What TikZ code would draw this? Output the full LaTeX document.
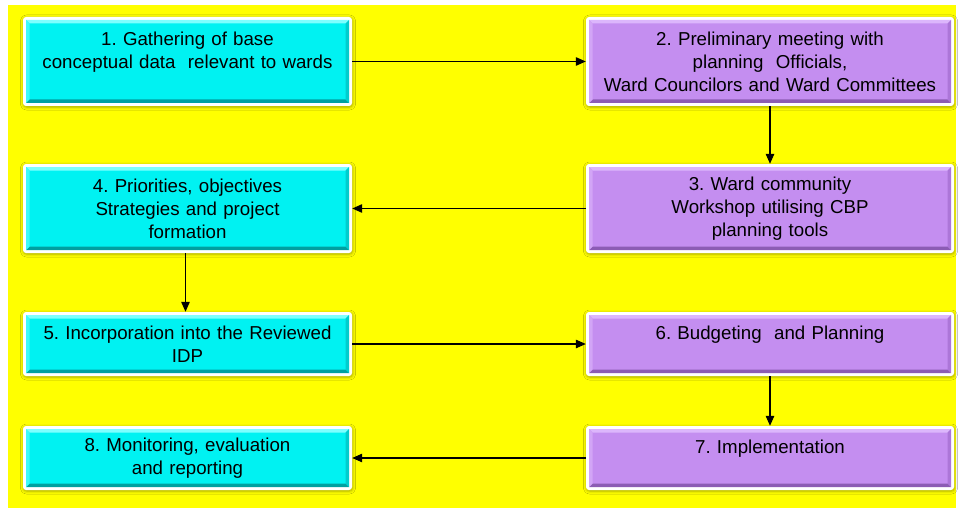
\documentclass[tikz,border=0pt]{standalone}
\usepackage{fontspec}
\setmainfont{Liberation Sans}
\usetikzlibrary{arrows.meta,shadows.blur}
\frenchspacing
\definecolor{bgyellow}{RGB}{255,255,0}
\definecolor{cyface}{RGB}{0,242,242}
\definecolor{cytop}{RGB}{125,255,255}
\definecolor{cyleft}{RGB}{60,250,250}
\definecolor{cyright}{RGB}{0,205,205}
\definecolor{cybot}{RGB}{0,160,160}
\definecolor{puface}{RGB}{196,142,240}
\definecolor{putop}{RGB}{220,182,252}
\definecolor{puleft}{RGB}{210,165,246}
\definecolor{puright}{RGB}{172,118,216}
\definecolor{pubot}{RGB}{140,92,180}
\tikzset{
  bevelled/.style={path picture={
    \path ([shift={(3pt,3pt)}]path picture bounding box.south west) coordinate (oa)
          ([shift={(-3pt,-3pt)}]path picture bounding box.north east) coordinate (ob)
          ([shift={(6.5pt,6.5pt)}]path picture bounding box.south west) coordinate (ia)
          ([shift={(-6.5pt,-6.5pt)}]path picture bounding box.north east) coordinate (ib);
    \fill[#1face, sharp corners] (oa) rectangle (ob);
    \fill[#1top, sharp corners] (oa|-ob) -- (ob) -- (ib) -- (ia|-ib) -- cycle;
    \fill[#1bot, sharp corners] (oa) -- (ob|-oa) -- (ib|-ia) -- (ia) -- cycle;
    \fill[#1left, sharp corners] (oa) -- (ia) -- (ia|-ib) -- (oa|-ob) -- cycle;
    \fill[#1right, sharp corners] (ob|-oa) -- (ib|-ia) -- (ib) -- (ob) -- cycle;
  }},
  box/.style={fill=white, rounded corners=3pt, inner sep=0pt, align=center,
    font=\fontsize{18.7}{23}\selectfont, text=black,
    blur shadow={shadow xshift=0.5pt, shadow yshift=-1pt, shadow blur radius=3pt, shadow opacity=35}},
  lbox/.style={box, bevelled=cy, minimum width=329pt, text width=319pt},
  rbox/.style={box, bevelled=pu, minimum width=368pt, text width=358pt},
  tall/.style={minimum height=89pt},
  short/.style={minimum height=64pt},
  arr/.style={-{Triangle[length=10pt,width=8.5pt]}, line width=1.2pt, black},
}
\begin{document}
\begin{tikzpicture}[x=1pt,y=-1pt]
\useasboundingbox (0,0) rectangle (958,508);
\fill[white] (0,0) rectangle (958,508);
\fill[bgyellow] (8,5) rectangle (956,508);

\node[lbox, tall]  (b1) at (187.5,61.5) {1. Gathering of base\\conceptual data\ \ relevant to wards\\\mbox{}};
\node[rbox, tall]  (b2) at (770,61.5) {2. Preliminary meeting with\\planning\ \ Officials,\\Ward Councilors and Ward Committees};
\node[rbox, tall]  (b3) at (770,208.5) {3. Ward community\\Workshop utilising CBP\\planning tools};
\node[lbox, tall]  (b4) at (187.5,208.5) {4. Priorities, objectives\\Strategies and project\\formation};
\node[lbox, short] (b5) at (187.5,344) {5. Incorporation into the Reviewed\\IDP};
\node[rbox, short] (b6) at (770,344) {6. Budgeting\ \ and Planning\\\mbox{}};
\node[rbox, short] (b7) at (770,458) {7. Implementation\\\mbox{}};
\node[lbox, short] (b8) at (187.5,458) {8. Monitoring, evaluation\\and reporting};

\draw[arr] (b1) -- (b2);
\draw[arr] (b2) -- (b3);
\draw[arr] (b3) -- (b4);
\draw[arr] ([xshift=-2pt]b4.south) -- ([xshift=-2pt]b5.north);
\draw[arr] (b5) -- (b6);
\draw[arr] (b6) -- (b7);
\draw[arr] (b7) -- (b8);
\end{tikzpicture}
\end{document}
